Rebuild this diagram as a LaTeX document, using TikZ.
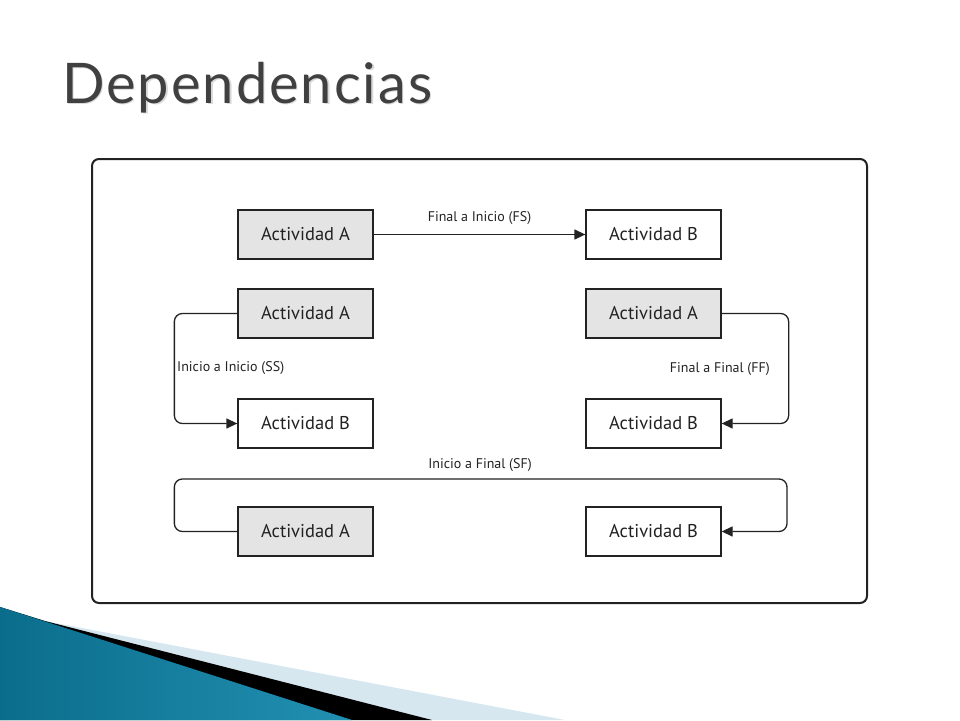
\documentclass[tikz,border=0pt]{standalone}
\usepackage{fontspec}
\setmainfont{PT Sans}
\newfontfamily\titlefont[LetterSpace=3.5]{Lato}
\usetikzlibrary{arrows.meta}
\definecolor{linec}{HTML}{222222}
\definecolor{grayA}{HTML}{E4E4E4}
\definecolor{titlec}{HTML}{404040}
\definecolor{shadowc}{HTML}{D9D9D9}
\definecolor{blueD}{HTML}{0B6D8C}
\definecolor{blueL}{HTML}{66C3E3}
\definecolor{blueM}{HTML}{2290B2}
\definecolor{paleblue}{HTML}{D6E7EF}
\tikzset{
  act/.style={draw=linec, line width=1.3pt, minimum width=135pt, minimum height=49pt,
              inner sep=0pt, font=\fontsize{18.5}{20}\selectfont, text=linec},
  actA/.style={act, fill=grayA},
  actB/.style={act, fill=white},
  conn/.style={draw=linec, line width=1.3pt, -{Triangle[length=11pt,width=10pt]}},
  lbl/.style={font=\fontsize{14}{16}\selectfont, text=linec, inner sep=0pt},
}
\begin{document}
\begin{tikzpicture}[x=1pt,y=-1pt]
\useasboundingbox (0,0) rectangle (960,720);
% title
\node[anchor=base west, inner sep=0pt, text=shadowc, font=\titlefont\fontsize{56}{60}\selectfont] (titleshadow) at (63.5,104.5) {Dependencias};
\node[anchor=base west, inner sep=0pt, text=titlec, font=\titlefont\fontsize{56}{60}\selectfont] (title) at (62,103) {Dependencias};
% bottom decoration
\fill[paleblue] (0,607) -- (45,621) -- (565,720) -- (0,720) -- cycle;
\fill[black] (0,607) -- (45,621) -- (432,720) -- (0,720) -- cycle;
\shade[left color=blueD, middle color=blueL, right color=blueM] (0,607) -- (352,720) -- (0,720) -- cycle;
% frame
\draw[draw=linec, line width=2pt, rounded corners=7pt] (92,159) rectangle (867,603);
% nodes
\node[actA] (a1) at (305.5,234.5) {Actividad A};
\node[actB] (b1) at (653.5,234.5) {Actividad B};
\node[actA] (a2) at (305.5,313.5) {Actividad A};
\node[actA] (a3) at (653.5,313.5) {Actividad A};
\node[actB] (b2) at (305.5,423.5) {Actividad B};
\node[actB] (b3) at (653.5,423.5) {Actividad B};
\node[actA] (a4) at (305.5,531.5) {Actividad A};
\node[actB] (b4) at (653.5,531.5) {Actividad B};
% connectors
\draw[conn] (a1) -- node[lbl, above=9pt] (lfs) {Final a Inicio (FS)} (b1);
\draw[conn, rounded corners=8pt] (a2.west) -- ++(-63,0) |- (b2.west);
\node[lbl, anchor=west] (lss) at (177,368) {Inicio a Inicio (SS)};
\draw[conn, rounded corners=8pt] (a3.east) -- ++(67,0) |- (b3.east);
\node[lbl, anchor=east] (lff) at (770,369) {Final a Final (FF)};
\coordinate (sfr) at (787,479);
\draw[conn, rounded corners=8pt] (a4.west) -- ++(-63,0) |- (sfr) |- (b4.east);
\node[lbl] (lsf) at (480,465) {Inicio a Final (SF)};
\end{tikzpicture}
\end{document}
